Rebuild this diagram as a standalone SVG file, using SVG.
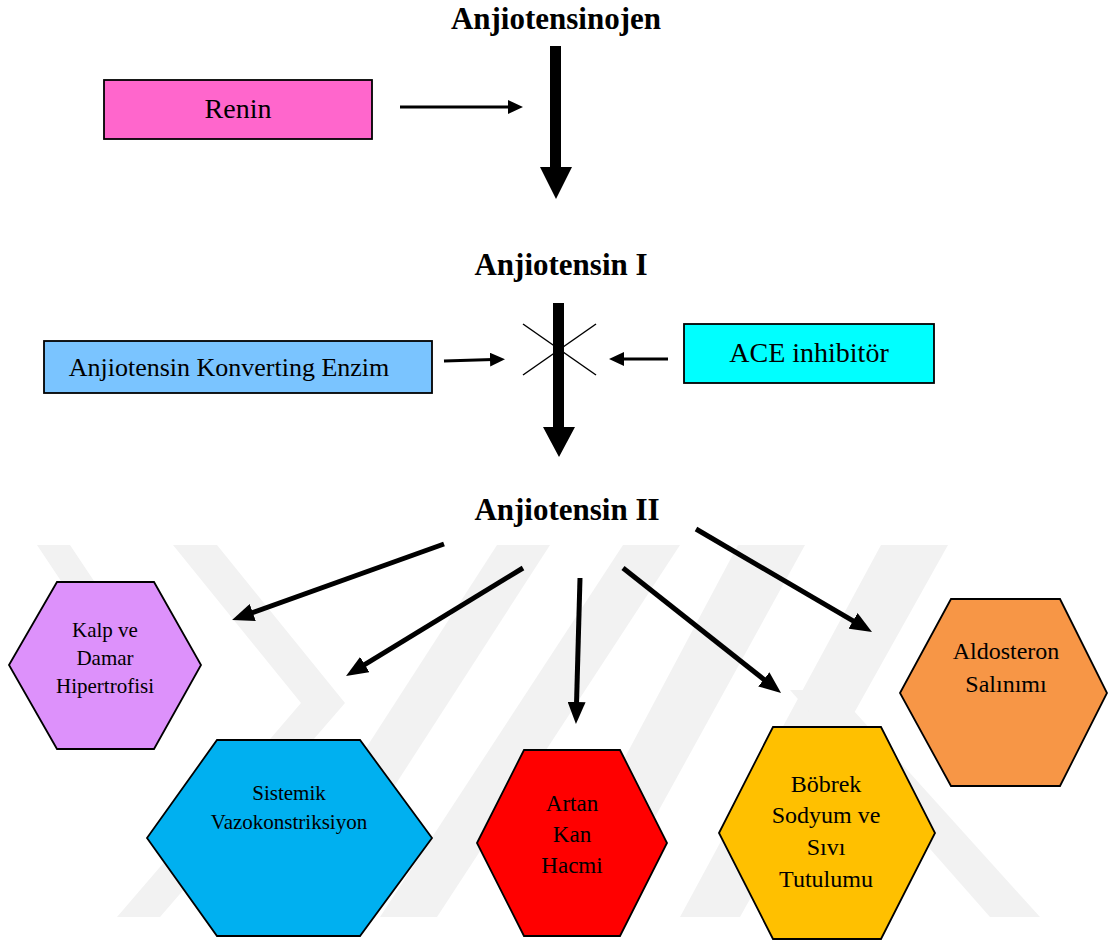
<svg xmlns="http://www.w3.org/2000/svg" width="1108" height="942" viewBox="0 0 1108 942">
<defs>
<style>
.t{font-family:"Liberation Serif","Times New Roman",serif;fill:#000;text-anchor:middle}
.b{font-weight:bold;font-size:31px}
.box{stroke:#000;stroke-width:1.8}
.hex{stroke:#000;stroke-width:1.8}
.wm{fill:#f2f2f2}
.thin{stroke:#000;stroke-width:3;fill:none}
.mid{stroke:#000;stroke-width:5;fill:none}
.cross{stroke:#000;stroke-width:1.5}
</style>
<marker id="ah" markerUnits="userSpaceOnUse" markerWidth="22" markerHeight="18" refX="6" refY="9" orient="auto">
<path d="M0,0 L22,9 L0,18 Z" fill="#000"/>
</marker>
<marker id="ahs" markerUnits="userSpaceOnUse" markerWidth="15" markerHeight="14" refX="3" refY="7" orient="auto">
<path d="M0,0 L15,7 L0,14 Z" fill="#000"/>
</marker>
</defs>
<rect width="1108" height="942" fill="#fff"/>
<g id="watermark">
<polygon class="wm" points="37,545 70,545 140,650 107,650"/>
<polygon class="wm" points="173,545 217,545 345,703 160,917 117,917 301,703"/>
<polygon class="wm" points="497,545 550,545 310,917 257,917"/>
<polygon class="wm" points="623,545 680,545 437,917 380,917"/>
<polygon class="wm" points="738,545 805,545 600,917 540,917"/>
<polygon class="wm" points="881,545 948,545 740,917 680,917"/>
<polygon class="wm" points="790,690 835,690 1040,917 990,917"/>
</g>
<g id="connectors">
<polygon points="550,46 561,46 561,167 572,167 556,199 540,167 550,167" fill="#000"/>
<polygon points="553,303 564,303 564,427 575,427 559,457 543,427 553,427" fill="#000"/>
<line class="thin" x1="400" y1="107" x2="511" y2="107" marker-end="url(#ahs)"/>
<line class="thin" x1="444" y1="361" x2="493" y2="359.5" marker-end="url(#ahs)"/>
<line class="thin" x1="668" y1="359" x2="621" y2="359" marker-end="url(#ahs)"/>
<line class="cross" x1="523" y1="324" x2="596" y2="375"/>
<line class="cross" x1="523" y1="375" x2="596" y2="324"/>
<line class="mid" x1="444" y1="544" x2="247.1" y2="614.6" marker-end="url(#ah)"/>
<line class="mid" x1="523" y1="568" x2="359.7" y2="667.7" marker-end="url(#ah)"/>
<line class="mid" x1="580" y1="578" x2="576.4" y2="708" marker-end="url(#ah)"/>
<line class="mid" x1="623" y1="568" x2="768.5" y2="683.1" marker-end="url(#ah)"/>
<line class="mid" x1="696" y1="529" x2="858.2" y2="623.9" marker-end="url(#ah)"/>
</g>
<g id="anjiotensinojen"><text class="t b" x="556" y="29">Anjiotensinojen</text></g>
<g id="anjiotensin-1"><text class="t b" x="561" y="275">Anjiotensin I</text></g>
<g id="anjiotensin-2"><text class="t b" x="567" y="520">Anjiotensin II</text></g>
<g id="renin">
<rect class="box" x="104" y="80" width="268" height="59" fill="#ff66cc"/>
<text class="t" x="238" y="118" font-size="28">Renin</text>
</g>
<g id="ace">
<rect class="box" x="44" y="341" width="388" height="52" fill="#7ac4ff"/>
<text class="t" x="229" y="376" font-size="26">Anjiotensin Konverting Enzim</text>
</g>
<g id="ace-inhibitor">
<rect class="box" x="684" y="324" width="250" height="59" fill="#00ffff"/>
<text class="t" x="809" y="362" font-size="28">ACE inhibitör</text>
</g>
<g id="kalp">
<polygon class="hex" points="9,665 57,582 154,582 201,665 154,749 57,749" fill="#dd91fb"/>
<text class="t" font-size="21"><tspan x="105" y="637">Kalp ve</tspan><tspan x="105" y="665">Damar</tspan><tspan x="105" y="693">Hipertrofisi</tspan></text>
</g>
<g id="sistemik">
<polygon class="hex" points="147,838 217,740 360,740 432,838 360,936 217,936" fill="#00b0f0"/>
<text class="t" font-size="21"><tspan x="289" y="800">Sistemik</tspan><tspan x="289" y="829">Vazokonstriksiyon</tspan></text>
</g>
<g id="artan">
<polygon class="hex" points="477,843 524,750 620,750 667,843 620,936 524,936" fill="#ff0000"/>
<text class="t" font-size="23"><tspan x="572" y="811">Artan</tspan><tspan x="572" y="842">Kan</tspan><tspan x="572" y="873">Hacmi</tspan></text>
</g>
<g id="bobrek">
<polygon class="hex" points="719,833 773,727 881,727 935,833 881,939 773,939" fill="#ffc000"/>
<text class="t" font-size="24"><tspan x="826" y="792">Böbrek</tspan><tspan x="826" y="823">Sodyum ve</tspan><tspan x="826" y="855">Sıvı</tspan><tspan x="826" y="887">Tutulumu</tspan></text>
</g>
<g id="aldosteron">
<polygon class="hex" points="900,693 951,599 1060,599 1107,693 1060,786 951,786" fill="#f79646"/>
<text class="t" font-size="24"><tspan x="1006" y="659">Aldosteron</tspan><tspan x="1006" y="692">Salınımı</tspan></text>
</g>
</svg>
